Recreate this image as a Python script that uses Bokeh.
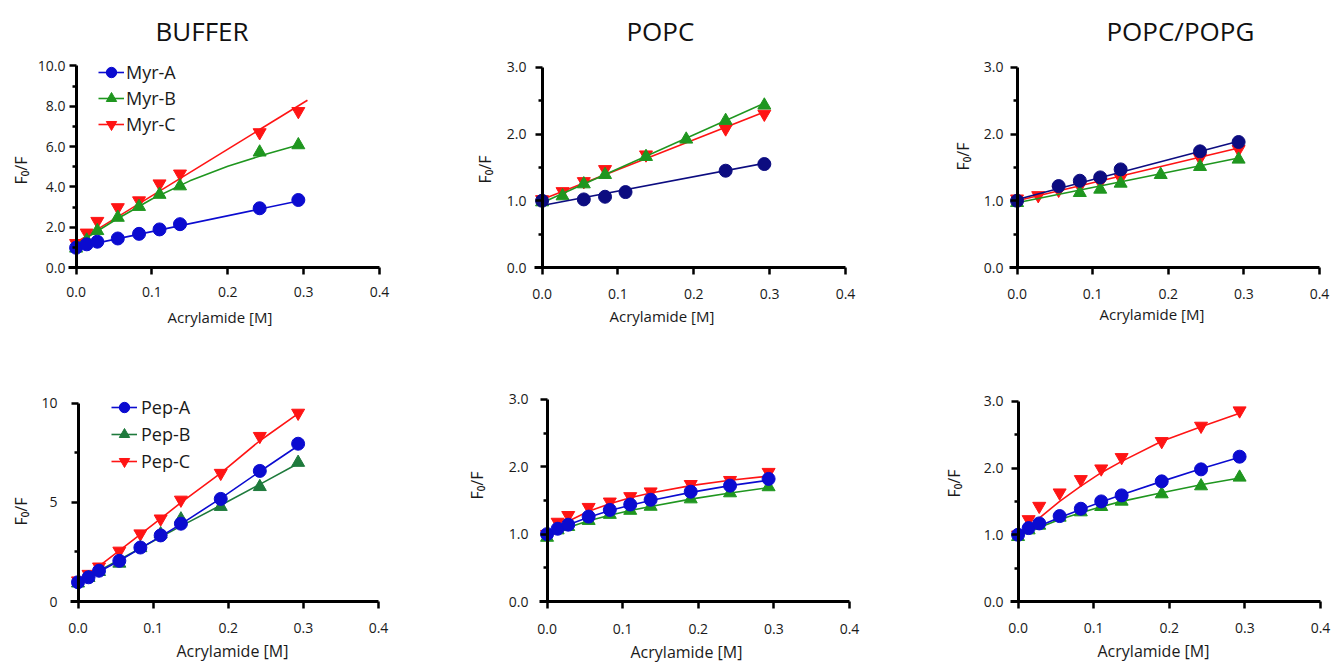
from bokeh.plotting import figure
from bokeh.layouts import row, column
from bokeh.models import (Range1d, FixedTicker, PrintfTickFormatter, CustomJSTickFormatter,
                          Label, Legend, LegendItem, LinearAxis, Title)
from bokeh.embed import file_html
from bokeh.resources import INLINE

FONT = "Open Sans"

# ---------------- data ----------------
x_ticks = [0.0, 0.1, 0.2, 0.3, 0.4]
y_label = "F\u2080/F"
x_label = "Acrylamide [M]"
titles = ["BUFFER", "POPC", "POPC/POPG"]
myr_names = ["Myr-A", "Myr-B", "Myr-C"]
pep_names = ["Pep-A", "Pep-B", "Pep-C"]

# Top row (Myr) - BUFFER
buf_myr_x = [0.0, 0.014, 0.028, 0.055, 0.083, 0.110, 0.137, 0.242, 0.293]
buf_myr_a = [0.98, 1.15, 1.28, 1.44, 1.67, 1.89, 2.15, 2.94, 3.35]
buf_myr_b = [0.95, 1.35, 1.82, 2.48, 3.02, 3.62, 4.04, 5.72, 6.08]
buf_myr_c = [1.2, 1.72, 2.3, 2.98, 3.32, 4.16, 4.65, 6.7, 7.75]
buf_fit_a_x = [0.0, 0.293]
buf_fit_a_y = [1.0, 3.3]
buf_fit_b_x = [0.0, 0.05, 0.10, 0.15, 0.20, 0.25, 0.293]
buf_fit_b_y = [1.15, 2.32, 3.4, 4.3, 5.02, 5.62, 6.08]
buf_fit_c_x = [0.0, 0.305]
buf_fit_c_y = [1.25, 8.3]

# Top row - POPC
popc_myr_a_x = [0.0, 0.055, 0.083, 0.110, 0.242, 0.293]
popc_myr_a = [1.0, 1.02, 1.06, 1.13, 1.45, 1.55]
popc_myr_b_x = [0.0, 0.027, 0.055, 0.083, 0.137, 0.190, 0.242, 0.293]
popc_myr_b = [0.98, 1.07, 1.25, 1.39, 1.66, 1.92, 2.2, 2.43]
popc_myr_c_x = [0.0, 0.027, 0.055, 0.083, 0.137, 0.242, 0.293]
popc_myr_c = [1.02, 1.14, 1.29, 1.47, 1.69, 2.08, 2.3]
popc_fit_x = [0.0, 0.293]
popc_fit_a = [0.93, 1.56]
popc_fit_b = [0.97, 2.46]
popc_fit_c = [1.02, 2.33]

# Top row - POPC/POPG
pg_myr_a_x = [0.0, 0.055, 0.083, 0.110, 0.137, 0.242, 0.293]
pg_myr_a = [1.0, 1.22, 1.30, 1.35, 1.47, 1.74, 1.88]
pg_myr_b_x = [0.0, 0.083, 0.110, 0.137, 0.190, 0.242, 0.293]
pg_myr_b = [0.97, 1.12, 1.17, 1.26, 1.39, 1.51, 1.62]
pg_myr_c_x = [0.0, 0.028, 0.055, 0.083, 0.110, 0.137, 0.242, 0.293]
pg_myr_c = [1.03, 1.08, 1.16, 1.22, 1.28, 1.34, 1.64, 1.77]
pg_fit_x = [0.0, 0.293]
pg_fit_a = [1.02, 1.89]
pg_fit_b = [0.97, 1.64]
pg_fit_c = [1.0, 1.79]

# Bottom row (Pep)
pep_x = [0.0, 0.014, 0.028, 0.055, 0.083, 0.110, 0.137, 0.190, 0.242, 0.293]
buf_pep_a = [0.97, 1.22, 1.55, 2.05, 2.72, 3.33, 3.92, 5.17, 6.58, 7.95]
buf_pep_b = [0.92, 1.2, 1.5, 1.92, 2.7, 3.4, 4.15, 4.78, 5.78, 7.0]
buf_pep_c = [1.05, 1.38, 1.75, 2.55, 3.42, 4.17, 5.12, 6.47, 8.33, 9.5]
buf_pep_fit_a = [1.0, 1.25, 1.5, 2.05, 2.68, 3.28, 3.9, 5.2, 6.55, 7.85]
buf_pep_fit_b = [1.0, 1.27, 1.55, 2.1, 2.68, 3.25, 3.8, 4.85, 5.9, 6.95]
buf_pep_fit_c = [1.0, 1.38, 1.78, 2.56, 3.38, 4.18, 4.98, 6.47, 8.1, 9.47]

popc_pep_a = [1.0, 1.08, 1.14, 1.26, 1.36, 1.44, 1.51, 1.63, 1.72, 1.82]
popc_pep_b = [0.95, 1.06, 1.11, 1.2, 1.29, 1.35, 1.41, 1.52, 1.61, 1.70]
popc_pep_c = [1.0, 1.18, 1.28, 1.4, 1.48, 1.56, 1.63, 1.74, 1.8, 1.92]
popc_pep_fit_a = [0.98, 1.07, 1.14, 1.25, 1.35, 1.43, 1.5, 1.62, 1.72, 1.8]
popc_pep_fit_b = [0.96, 1.04, 1.1, 1.2, 1.28, 1.35, 1.41, 1.52, 1.61, 1.69]
popc_pep_fit_c = [1.0, 1.1, 1.19, 1.34, 1.45, 1.54, 1.61, 1.72, 1.8, 1.86]

pg_pep_a = [1.0, 1.1, 1.17, 1.28, 1.39, 1.50, 1.59, 1.80, 1.98, 2.17]
pg_pep_b = [0.97, 1.07, 1.14, 1.26, 1.34, 1.42, 1.50, 1.61, 1.73, 1.86]
pg_pep_c = [1.0, 1.23, 1.43, 1.63, 1.83, 1.99, 2.16, 2.4, 2.63, 2.86]
pg_pep_fit_a = [1.0, 1.07, 1.13, 1.26, 1.38, 1.49, 1.6, 1.8, 1.99, 2.16]
pg_pep_fit_b = [0.98, 1.05, 1.11, 1.23, 1.33, 1.42, 1.5, 1.63, 1.75, 1.85]
pg_pep_fit_c = [1.0, 1.12, 1.25, 1.5, 1.73, 1.93, 2.1, 2.4, 2.62, 2.82]

# ---------------- styles ----------------
NAVY = "#0c0c80"
BLUE = "#0b0bd0"
GREEN = "#1f961f"
DKGREEN = "#1e7a3c"
RED = "#ff1414"
INK = "#1a1a1a"
MARKERS = ["circle", "triangle", "inverted_triangle"]


def make_panel(cfg, series, legend_names=None, legend_loc=None, title=None, title_pos=None):
    W, H, bl, br, bt, bb = cfg["box"]
    ymax = cfg["yticks"][-1]
    p = figure(width=W, height=H, output_backend="svg", toolbar_location=None, title=None,
               x_range=Range1d(-0.01, 0.4), y_range=Range1d(0, cfg["ytop"]),
               min_border_left=bl, min_border_right=br, min_border_top=bt, min_border_bottom=bb)
    p.grid.visible = False
    p.outline_line_color = None

    # x axis: line, ticks and tick labels
    xa = p.xaxis[0]
    xa.ticker = FixedTicker(ticks=x_ticks, minor_ticks=[])
    xa.formatter = PrintfTickFormatter(format="%.1f")
    xa.axis_line_width = 3
    xa.major_tick_line_width = 2.5
    xa.major_tick_out = 7
    xa.major_tick_in = 0
    xa.major_label_text_font = FONT
    xa.major_label_text_font_size = "14px"
    xa.major_label_text_color = INK
    xa.major_label_standoff = cfg["xs"]
    p.add_layout(Title(text=x_label, align="left", offset=cfg["xo"], standoff=cfg["xst"],
                       vertical_align="bottom", text_font=FONT, text_font_size=cfg["xfs"],
                       text_font_style="normal", text_color=INK), "below")

    # left axis: tick labels only
    ya = p.yaxis[0]
    ya.ticker = FixedTicker(ticks=cfg["yticks"], minor_ticks=[])
    ya.formatter = PrintfTickFormatter(format=cfg["yfmt"])
    ya.bounds = (0, ymax)
    ya.axis_line_color = None
    ya.major_tick_line_color = None
    ya.minor_tick_line_color = None
    ya.major_tick_out = 0
    ya.minor_tick_out = 0
    ya.major_label_text_font = FONT
    ya.major_label_text_font_size = "14px"
    ya.major_label_text_color = INK
    ya.major_label_standoff = cfg["ys"]
    p.add_layout(Title(text=y_label, align="left", offset=cfg["yo"], standoff=cfg["yst"],
                       vertical_align="bottom", text_font=FONT, text_font_size="16px",
                       text_font_style="normal", text_color=INK), "left")

    # y axis line + ticks drawn at x = 0
    yl = LinearAxis(fixed_location=0, bounds=(0, ymax),
                    ticker=FixedTicker(ticks=cfg["yticks"], minor_ticks=cfg["yminor"]),
                    formatter=CustomJSTickFormatter(code="return ''"),
                    axis_line_width=3, major_tick_line_width=2.5, minor_tick_line_width=2.5,
                    major_tick_in=7, major_tick_out=0, minor_tick_in=4, minor_tick_out=0,
                    major_label_standoff=0)
    p.add_layout(yl, "right")

    rends = {}
    for idx in [2, 1, 0]:
        xs, ys, fx, fy, color = series[idx]
        lr = p.line(fx, fy, line_color=color, line_width=1.6)
        sr = p.scatter(xs, ys, marker=MARKERS[idx], size=13, fill_color=color, line_color=color)
        rends[idx] = (lr, sr)

    if legend_names is not None:
        items = [LegendItem(label=legend_names[i], renderers=list(rends[i])) for i in range(3)]
        leg = Legend(items=items, location=legend_loc, padding=0, margin=0,
                     spacing=cfg.get("lspace", 0), glyph_width=26, glyph_height=26, label_height=26,
                     label_standoff=cfg.get("lstand", 3),
                     label_text_font=FONT, label_text_font_size="18px", label_text_color=INK,
                     background_fill_alpha=0, border_line_alpha=0)
        p.add_layout(leg)

    if title is not None:
        p.add_layout(Label(x=title_pos[0], y=title_pos[1], text=title, text_font=FONT,
                           text_font_size="26px", text_align="center", text_baseline="middle",
                           text_color="#111111"))
    return p


YT3 = [0, 1, 2, 3]
YM3 = [0.5, 1.5, 2.5]

p1 = make_panel(
    dict(box=(440, 345, 68, 61, 0, 78), ytop=13.25, yticks=[0, 2, 4, 6, 8, 10], yminor=[1, 3, 5, 7, 9],
         yfmt="%.1f", xs=12, xst=10, xo=99, xfs="15px", ys=3, yst=6, yo=83, lspace=0, lstand=2),
    [(buf_myr_x, buf_myr_a, buf_fit_a_x, buf_fit_a_y, BLUE),
     (buf_myr_x, buf_myr_b, buf_fit_b_x, buf_fit_b_y, GREEN),
     (buf_myr_x, buf_myr_c, buf_fit_c_x, buf_fit_c_y, RED)],
    legend_names=myr_names, legend_loc=(30, 130), title=titles[0], title_pos=(0.166, 11.76))

p2 = make_panel(
    dict(box=(460, 345, 94, 55, 0, 77), ytop=4.0, yticks=YT3, yminor=YM3,
         yfmt="%.1f", xs=14, xst=4, xo=75, xfs="15px", ys=8, yst=16, yo=84),
    [(popc_myr_a_x, popc_myr_a, popc_fit_x, popc_fit_a, NAVY),
     (popc_myr_b_x, popc_myr_b, popc_fit_x, popc_fit_b, GREEN),
     (popc_myr_c_x, popc_myr_c, popc_fit_x, popc_fit_c, RED)],
    title=titles[1], title_pos=(0.156, 3.55))

p3 = make_panel(
    dict(box=(433, 345, 109, 14, 0, 77), ytop=4.0, yticks=YT3, yminor=YM3,
         yfmt="%.1f", xs=14, xst=0, xo=90, xfs="15px", ys=6, yst=14, yo=97),
    [(pg_myr_a_x, pg_myr_a, pg_fit_x, pg_fit_a, NAVY),
     (pg_myr_b_x, pg_myr_b, pg_fit_x, pg_fit_b, GREEN),
     (pg_myr_c_x, pg_myr_c, pg_fit_x, pg_fit_c, RED)],
    title=titles[2], title_pos=(0.216, 3.55))

p4 = make_panel(
    dict(box=(440, 321, 67, 62, 0, 63), ytop=12.9, yticks=[0, 5, 10], yminor=[2.5, 7.5],
         yfmt="%d", xs=14, xst=4, xo=106, xfs="16px", ys=13, yst=14, yo=76, lspace=1, lstand=4),
    [(pep_x, buf_pep_a, pep_x, buf_pep_fit_a, BLUE),
     (pep_x, buf_pep_b, pep_x, buf_pep_fit_b, DKGREEN),
     (pep_x, buf_pep_c, pep_x, buf_pep_fit_c, RED)],
    legend_names=pep_names, legend_loc=(41, 127))

p5 = make_panel(
    dict(box=(460, 321, 99, 51, 0, 65), ytop=3.80, yticks=YT3, yminor=YM3,
         yfmt="%.1f", xs=15, xst=5, xo=91, xfs="16px", ys=11, yst=36, yo=102),
    [(pep_x, popc_pep_a, pep_x, popc_pep_fit_a, BLUE),
     (pep_x, popc_pep_b, pep_x, popc_pep_fit_b, GREEN),
     (pep_x, popc_pep_c, pep_x, popc_pep_fit_c, RED)])

p6 = make_panel(
    dict(box=(433, 321, 110, 13, 0, 64), ytop=3.836, yticks=YT3, yminor=YM3,
         yfmt="%.1f", xs=14, xst=5, xo=87, xfs="16px", ys=7, yst=32, yo=104),
    [(pep_x, pg_pep_a, pep_x, pg_pep_fit_a, BLUE),
     (pep_x, pg_pep_b, pep_x, pg_pep_fit_b, GREEN),
     (pep_x, pg_pep_c, pep_x, pg_pep_fit_c, RED)])

layout = column(row(p1, p2, p3), row(p4, p5, p6))

open("out.html", "w").write(file_html(layout, INLINE))
